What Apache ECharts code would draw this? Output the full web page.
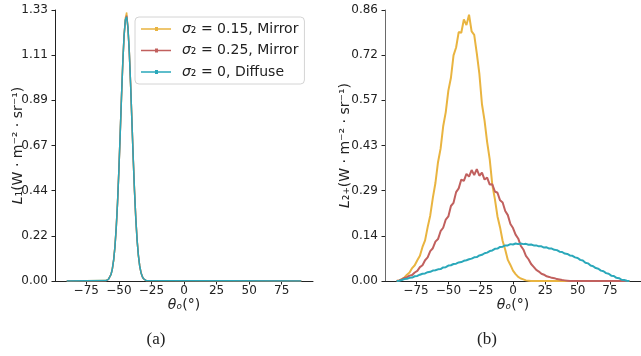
<!DOCTYPE html>
<html>
<head>
<meta charset="utf-8">
<script src="https://cdn.jsdelivr.net/npm/echarts@6/dist/echarts.min.js"></script>
<style>
  html, body { margin: 0; padding: 0; background: #fff; }
  #chart { width: 641px; height: 356px; }
</style>
</head>
<body>
<div id="chart"></div>
<script>
// series names (shared by both panels)
const names = ['σ₂ = 0.15, Mirror', 'σ₂ = 0.25, Mirror', 'σ₂ = 0, Diffuse'];
const colors = ['#E9B440', '#C1605E', '#2AA8BA'];

// x ticks (degrees)
const xTickValues = [-75, -50, -25, 0, 25, 50, 75];
const xTickLabels = ['−75', '−50', '−25', '0', '25', '50', '75'];

// y tick labels
const yLabelsA = ['0.00', '0.22', '0.44', '0.67', '0.89', '1.11', '1.33'];
const yMaxA = 1.33;
const yLabelsB = ['0.00', '0.14', '0.29', '0.43', '0.57', '0.72', '0.86'];
const yMaxB = 0.86;

// (a) L1 : narrow peak, all three nearly identical
const thetaA = [-90, -60, -59, -58, -57, -56, -55, -54, -53, -52, -51, -50, -49, -48, -47, -46, -45,
  -44, -43, -42, -41, -40, -39, -38, -37, -36, -35, -34, -33, -32, -31, -30, -29, -28, 90];
const orangeA = [0, 0.002, 0.004, 0.009, 0.017, 0.031, 0.060, 0.100, 0.170, 0.260, 0.389, 0.536, 0.720, 0.893, 1.072, 1.198, 1.290,
  1.318, 1.235, 1.130, 0.964, 0.792, 0.604, 0.448, 0.305, 0.204, 0.123, 0.075, 0.040, 0.023, 0.010, 0.005, 0.002, 0, 0];
const redA = [0, 0.001, 0.004, 0.008, 0.016, 0.033, 0.058, 0.104, 0.166, 0.264, 0.383, 0.543, 0.712, 0.901, 1.064, 1.205, 1.279,
  1.302, 1.245, 1.124, 0.972, 0.786, 0.611, 0.442, 0.310, 0.200, 0.127, 0.073, 0.042, 0.021, 0.011, 0.004, 0.002, 0, 0];
const tealA = [0, 0.002, 0.004, 0.008, 0.017, 0.032, 0.059, 0.102, 0.168, 0.262, 0.386, 0.540, 0.716, 0.898, 1.068, 1.202, 1.283,
  1.297, 1.242, 1.127, 0.969, 0.789, 0.608, 0.445, 0.308, 0.202, 0.125, 0.074, 0.041, 0.022, 0.011, 0.005, 0.002, 0, 0];

// (b) L2+ : bins from -90 to 90, every 2 degrees
const thetaStartB = -90, thetaStepB = 2;
const orangeB = [0, 0.002, 0.006, 0.011, 0.020, 0.027, 0.041, 0.050, 0.066, 0.080, 0.108, 0.129, 0.171, 0.208, 0.264, 0.311,
  0.377, 0.420, 0.491, 0.536, 0.604, 0.645, 0.716, 0.741, 0.790, 0.788, 0.830, 0.812, 0.845, 0.792, 0.781, 0.722,
  0.657, 0.561, 0.509, 0.441, 0.386, 0.305, 0.260, 0.205, 0.170, 0.127, 0.099, 0.067, 0.051, 0.033, 0.022, 0.013,
  0.008, 0.005, 0.002, 0.001,
  0, 0, 0, 0, 0, 0, 0, 0, 0, 0, 0, 0, 0, 0, 0, 0, 0, 0, 0, 0, 0, 0, 0, 0, 0, 0, 0, 0, 0, 0, 0, 0, 0, 0, 0, 0, 0, 0, 0];
const redB = [0, 0.002, 0.005, 0.010, 0.012, 0.017, 0.019, 0.027, 0.032, 0.044, 0.050, 0.066, 0.075, 0.095, 0.104, 0.125,
  0.133, 0.158, 0.169, 0.195, 0.205, 0.238, 0.248, 0.282, 0.294, 0.322, 0.318, 0.340, 0.331, 0.352, 0.336, 0.355,
  0.334, 0.344, 0.322, 0.328, 0.306, 0.307, 0.284, 0.280, 0.256, 0.249, 0.222, 0.209, 0.181, 0.168, 0.147, 0.135,
  0.112, 0.100, 0.080, 0.069, 0.054, 0.045, 0.035, 0.030, 0.023, 0.020, 0.015, 0.013, 0.010, 0.009, 0.006, 0.005,
  0.003, 0.002, 0.001,
  0, 0, 0, 0, 0, 0, 0, 0, 0, 0, 0, 0, 0, 0, 0, 0, 0, 0, 0, 0, 0, 0, 0, 0];
const tealB = [0, 0.001, 0.003, 0.006, 0.007, 0.010, 0.011, 0.015, 0.016, 0.020, 0.023, 0.024, 0.028, 0.029, 0.033, 0.034,
  0.037, 0.038, 0.043, 0.044, 0.049, 0.050, 0.054, 0.055, 0.059, 0.060, 0.064, 0.066, 0.069, 0.071, 0.075, 0.076,
  0.081, 0.083, 0.088, 0.090, 0.095, 0.097, 0.102, 0.103, 0.108, 0.109, 0.113, 0.113, 0.117, 0.116, 0.119, 0.117,
  0.119, 0.117, 0.118, 0.115, 0.116, 0.113, 0.113, 0.110, 0.110, 0.106, 0.107, 0.103, 0.103, 0.099, 0.098, 0.093,
  0.092, 0.087, 0.086, 0.081, 0.080, 0.075, 0.073, 0.067, 0.065, 0.058, 0.056, 0.049, 0.047, 0.041, 0.039, 0.033,
  0.031, 0.025, 0.023, 0.017, 0.016, 0.010, 0.009, 0.004, 0.003, 0.001, 0];

const font = 'DejaVu Sans';
const ink = '#222';

function pairsA(vals) { return thetaA.map((t, i) => [t, vals[i]]); }
function pairsB(vals) { return vals.map((v, i) => [thetaStartB + i * thetaStepB, v]); }

function xAxisFor(gridIndex) {
  return {
    type: 'value', gridIndex, min: -99, max: 99,
    name: '{i|θₒ}(°)', nameLocation: 'middle', nameGap: 17, nameMoveOverlap: false,
    nameTextStyle: { fontSize: 14, fontFamily: font, color: ink,
      rich: { i: { fontSize: 14, fontFamily: font, fontStyle: 'italic', color: ink } } },
    axisLine: { show: true, onZero: false, lineStyle: { color: ink, width: 1 } },
    axisTick: { show: true, length: 3.5, customValues: xTickValues, lineStyle: { color: ink } },
    axisLabel: { customValues: xTickValues, margin: 4, fontSize: 12, fontFamily: font, color: ink,
      formatter: v => xTickLabels[xTickValues.indexOf(v)] },
    splitLine: { show: false }
  };
}

function yAxisFor(gridIndex, max, labels, name, lineColor, gap) {
  const vals = labels.map((_, i) => max * i / (labels.length - 1));
  return {
    type: 'value', gridIndex, min: 0, max,
    name, nameLocation: 'middle', nameGap: gap, nameMoveOverlap: false,
    nameTextStyle: { fontSize: 14, fontFamily: font, color: ink,
      rich: { i: { fontSize: 14, fontFamily: font, fontStyle: 'italic', color: ink } } },
    axisLine: { show: true, onZero: false, lineStyle: { color: lineColor, width: 1 } },
    axisTick: { show: true, length: 3.5, customValues: vals, lineStyle: { color: ink } },
    axisLabel: { customValues: vals, margin: 7, fontSize: 12, fontFamily: font, color: ink,
      formatter: v => labels[Math.round(v * (labels.length - 1) / max)] },
    splitLine: { show: false }
  };
}

function line(name, color, data, xi, width, z) {
  return {
    name, type: 'line', xAxisIndex: xi, yAxisIndex: xi, data,
    showSymbol: false, z,
    lineStyle: { color, width }, itemStyle: { color }
  };
}

const legendIcon = 'path://M0,1.25H30V2.75H0Z M14,0H17V4H14Z';

const chart = echarts.init(document.getElementById('chart'));
chart.setOption({
  animation: false,
  backgroundColor: '#fff',
  grid: [
    { left: 55, top: 10, width: 258, height: 271, outerBoundsMode: 'none' },
    { left: 385, top: 10, width: 256, height: 271, outerBoundsMode: 'none' }
  ],
  xAxis: [xAxisFor(0), xAxisFor(1)],
  yAxis: [
    yAxisFor(0, yMaxA, yLabelsA, '{i|L}₁(W · m⁻² · sr⁻¹)', ink, 30),
    yAxisFor(1, yMaxB, yLabelsB, '{i|L}₂₊(W · m⁻² · sr⁻¹)', '#6a6a6a', 33)
  ],
  legend: {
    left: 135, top: 17, orient: 'vertical',
    backgroundColor: '#fff', borderColor: '#d4d4d4', borderWidth: 1, borderRadius: 4,
    padding: [4, 6, 4, 6], itemGap: 5.5, itemWidth: 30, itemHeight: 4,
    textStyle: { fontSize: 14, fontFamily: font, color: ink, lineHeight: 16, padding: [0, 0, 0, 6],
      rich: { i: { fontSize: 14, fontFamily: font, fontStyle: 'italic', color: ink, lineHeight: 16 } } },
    formatter: n => '{i|σ}' + n.slice(1),
    data: names.map(n => ({ name: n, icon: legendIcon }))
  },
  graphic: [
    { type: 'text', x: 156, y: 340, style: { text: '(a)', fontSize: 17, fontFamily: 'Liberation Serif', fill: ink, align: 'center', verticalAlign: 'middle' } },
    { type: 'text', x: 487, y: 340, style: { text: '(b)', fontSize: 17, fontFamily: 'Liberation Serif', fill: ink, align: 'center', verticalAlign: 'middle' } }
  ],
  series: [
    line(names[0], colors[0], pairsA(orangeA), 0, 1.5, 2),
    line(names[1], colors[1], pairsA(redA), 0, 1.5, 3),
    line(names[2], colors[2], pairsA(tealA), 0, 1.5, 4),
    line(names[0], colors[0], pairsB(orangeB), 1, 2, 2),
    line(names[1], colors[1], pairsB(redB), 1, 2, 3),
    line(names[2], colors[2], pairsB(tealB), 1, 2, 4)
  ]
});
</script>
</body>
</html>
